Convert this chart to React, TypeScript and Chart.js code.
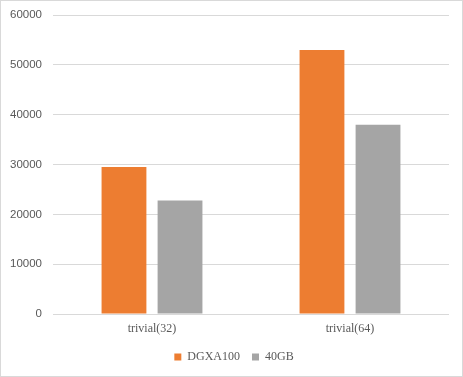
import React, { useEffect, useRef } from "react";
import { Chart, registerables } from "chart.js";

Chart.register(...registerables);

const categories = ["trivial(32)", "trivial(64)"];
const seriesNames = ["DGXA100", "40GB"];
const dgxa100Values = [29500, 53000];
const gb40Values = [22800, 38000];
const yTicks = [0, 10000, 20000, 30000, 40000, 50000, 60000];

const legendShift = {
  id: "legendShift",
  afterLayout(chart: any) {
    const l = chart.legend;
    if (l) {
      l.left += 9;
      l.right += 9;
    }
  },
};

export default function App() {
  const ref = useRef<HTMLCanvasElement | null>(null);
  useEffect(() => {
    document.body.style.margin = "0";
    const ctx = ref.current!;
    const chart = new Chart(ctx, {
      type: "bar",
      data: {
        labels: categories,
        datasets: [
          {
            label: seriesNames[0],
            data: dgxa100Values,
            backgroundColor: "#ED7D31",
            categoryPercentage: 0.566,
            barPercentage: 0.8,
          },
          {
            label: seriesNames[1],
            data: gb40Values,
            backgroundColor: "#A5A5A5",
            categoryPercentage: 0.566,
            barPercentage: 0.8,
          },
        ],
      },
      plugins: [legendShift],
      options: {
        animation: false,
        responsive: false,
        maintainAspectRatio: false,
        layout: { padding: { top: 14, right: 13, left: 0, bottom: 3 } },
        plugins: {
          tooltip: { enabled: false },
          legend: {
            position: "bottom",
            labels: {
              boxWidth: 7,
              boxHeight: 7,
              padding: 12,
              color: "#595959",
              font: { family: "'Liberation Serif', serif", size: 12 },
            },
          },
        },
        scales: {
          x: {
            grid: { display: false, drawTicks: false },
            border: { display: false },
            ticks: {
              color: "#595959",
              padding: 8,
              font: { family: "'Liberation Serif', serif", size: 12 },
            },
            afterFit: (s: any) => {
              s.height = 25;
            },
          },
          y: {
            min: yTicks[0],
            max: yTicks[yTicks.length - 1],
            afterBuildTicks: (s: any) => {
              s.ticks = yTicks.map((v) => ({ value: v }));
            },
            grid: { color: "#d9d9d9", drawTicks: false, lineWidth: 1 },
            border: { display: false },
            ticks: {
              color: "#595959",
              padding: 11,
              font: { family: "'Liberation Sans', sans-serif", size: 11.5 },
              callback: (v: any) => String(v),
            },
            afterFit: (s: any) => {
              s.width = 52;
              s.paddingTop = 0;
              s.paddingBottom = 0;
            },
          },
        },
      },
    });
    return () => chart.destroy();
  }, []);
  return (
    <div
      style={{
        position: "absolute",
        left: 0,
        top: 0,
        width: 463,
        height: 377,
        boxSizing: "border-box",
        border: "1px solid #d9d9d9",
        background: "#fff",
      }}
    >
      <canvas ref={ref} width={461} height={375} style={{ display: "block" }} />
    </div>
  );
}
